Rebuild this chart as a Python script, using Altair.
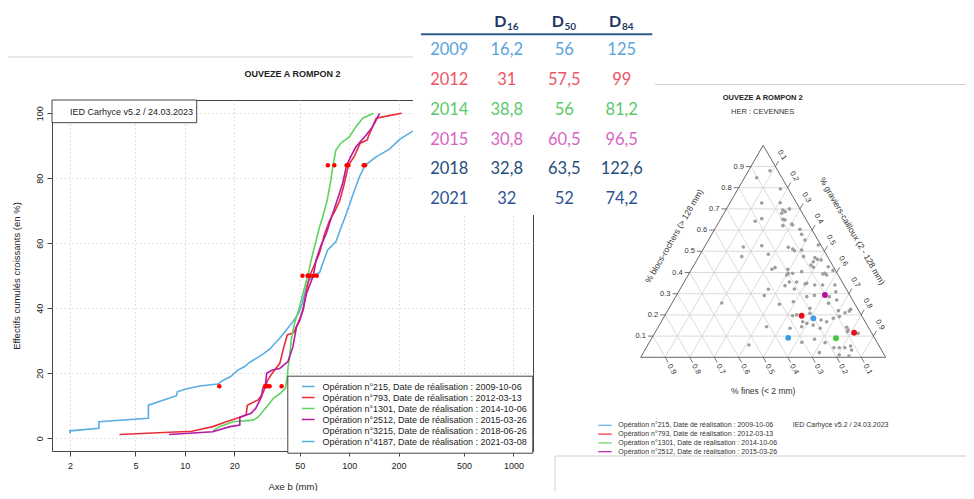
import altair as alt
import pandas as pd

F = "Liberation Sans"
TF = "Lato"

# ---------------- data ----------------
TITLE = "OUVEZE A ROMPON 2"
op_labels = [
    "Opération n°215, Date de réalisation : 2009-10-06",
    "Opération n°793, Date de réalisation : 2012-03-13",
    "Opération n°1301, Date de réalisation : 2014-10-06",
    "Opération n°2512, Date de réalisation : 2015-03-26",
    "Opération n°3215, Date de réalisation : 2018-06-26",
    "Opération n°4187, Date de réalisation : 2021-03-08",
]
op_colors = ["#5AAEE3", "#EB2D3A", "#5ED35E", "#B51AA3", "#FFFFFF", "#5AAEE3"]

c09_x = [2, 2, 3, 3, 6, 6, 8.9, 9, 10, 12.3, 15.9, 17, 19, 21, 23, 25, 28, 30, 33, 35, 37.8, 41, 45.5, 49.3, 51.8,
         54.3, 56, 60, 66, 74, 83, 88, 96, 105.5, 115.6, 125, 146, 176, 203, 234, 257, 320, 450, 650, 1000]
c09_y = [1.5, 2.3, 3.1, 5.1, 6.2, 10.2, 13.1, 14.3, 15.1, 16.1, 16.7, 17.8, 19, 21, 22, 23.5, 25, 26, 27.5, 29, 30.8,
         33, 35.9, 38.5, 41.5, 45.6, 48, 50, 51, 58, 60.5, 64, 69, 75, 80.5, 84, 86.6, 89, 92, 94, 95, 96, 97, 98.5, 100]
c12_x = [4, 11, 14.8, 17.9, 21.6, 23.6, 24, 27.9, 29.8, 31, 32, 34, 37.8, 40, 42, 46, 49.3, 52.5, 55, 57.5, 61, 66, 71,
         76, 82, 87.5, 92, 99, 108, 116.7, 129, 131, 139, 146, 175, 209]
c12_y = [1.2, 2.2, 3.6, 5.1, 6.5, 7.2, 10.2, 11.8, 13.8, 16, 18, 20, 23, 28, 31.8, 32.5, 35.9, 39.5, 45.6, 50, 53, 57,
         63, 67, 70, 73, 77, 84, 87, 90.8, 91.8, 93, 95.9, 98.5, 99.3, 100]
c14_x = [14.8, 16.3, 19.6, 26, 27.9, 31.5, 34.6, 38.1, 40.9, 42, 42.5, 43.4, 44.4, 46.5, 49.3, 51.8, 53, 56, 58.5, 61.6,
         66, 69, 73.5, 77.5, 79.5, 83, 89, 100.5, 110, 121, 140.6]
c14_y = [2.3, 3.6, 5.1, 5.6, 6.5, 9.7, 12.3, 13.8, 15.4, 19, 22, 25, 30.2, 35.4, 39.5, 43.6, 45.6, 50, 54.5, 59, 65, 68,
         73.3, 79.5, 83.6, 88.7, 90.8, 92.8, 95.9, 98.5, 100]
c15_x = [8, 14.8, 18.8, 21.6, 21.6, 25.3, 27, 29.3, 29.8, 30.8, 31.5, 34, 37.8, 42.4, 45.5, 47.8, 50.2, 52.8, 55, 60.5,
         63, 67, 72.6, 78, 83.4, 91.3, 96.5, 103, 110, 127, 139, 146, 153]
c15_y = [1.2, 2, 3.6, 4.1, 6.5, 7.7, 9.2, 12.8, 15.4, 16, 20, 21, 21.5, 23.6, 28.2, 34.3, 36.4, 40.5, 44.6, 50, 55, 59,
         63, 68, 72.3, 78.5, 84, 87, 89.7, 93.3, 95.9, 97.9, 100]

x_ticks = [2, 5, 10, 20, 50, 100, 200, 500, 1000]
y_ticks = [0, 20, 40, 60, 80, 100]

years = ["2009", "2012", "2014", "2015", "2018", "2021"]
d16 = [16.2, 31, 38.8, 30.8, 32.8, 32]
d50 = [56, 57.5, 56, 60.5, 63.5, 52]
d84 = [125, 99, 81.2, 96.5, 122.6, 74.2]
table_colors = ["#5BA3DC", "#EE5567", "#5BC96A", "#D963C4", "#1F4E79", "#2F5496"]

tern_levels = [0.1, 0.2, 0.3, 0.4, 0.5, 0.6, 0.7, 0.8, 0.9]
gray_blocs = [0.880, 0.847, 0.794, 0.728, 0.729, 0.695, 0.687, 0.679, 0.700, 0.642, 0.654, 0.651, 0.648, 0.629, 0.621,
              0.624, 0.604, 0.580, 0.553, 0.530, 0.520, 0.526, 0.519, 0.511, 0.503, 0.506, 0.475, 0.470, 0.462, 0.451,
              0.475, 0.486, 0.423, 0.415, 0.415, 0.396, 0.388, 0.404, 0.435, 0.425, 0.459, 0.427, 0.393, 0.388, 0.41,
              0.338, 0.355, 0.355, 0.346, 0.349, 0.341, 0.341, 0.396, 0.396, 0.341, 0.309, 0.286, 0.291, 0.321, 0.322,
              0.286, 0.292, 0.270, 0.250, 0.262, 0.231, 0.255, 0.220, 0.210, 0.218, 0.226, 0.256, 0.196, 0.200, 0.208,
              0.168, 0.160, 0.152, 0.144, 0.176, 0.168, 0.184, 0.192, 0.142, 0.129, 0.121, 0.137, 0.144, 0.137, 0.113,
              0.085, 0.071, 0.069, 0.045, 0.045, 0.045, 0.053, 0.034, 0.006, 0.011, 0.022, 0.058]
gray_graviers = [0.088, 0.050, 0.173, 0.130, 0.205, 0.232, 0.246, 0.236, 0.257, 0.146, 0.167, 0.255, 0.265, 0.302,
                 0.270, 0.308, 0.348, 0.367, 0.394, 0.460, 0.159, 0.231, 0.343, 0.365, 0.376, 0.404, 0.427, 0.476,
                 0.490, 0.479, 0.175, 0.278, 0.337, 0.328, 0.393, 0.404, 0.402, 0.455, 0.477, 0.492, 0.507, 0.552,
                 0.547, 0.565, 0.58, 0.420, 0.429, 0.459, 0.498, 0.503, 0.540, 0.572, 0.422, 0.554, 0.622, 0.642,
                 0.627, 0.359, 0.361, 0.466, 0.535, 0.563, 0.665, 0.441, 0.492, 0.575, 0.639, 0.697, 0.729, 0.742,
                 0.744, 0.203, 0.522, 0.537, 0.587, 0.577, 0.598, 0.628, 0.585, 0.648, 0.675, 0.694, 0.715, 0.770,
                 0.783, 0.783, 0.541, 0.442, 0.664, 0.831, 0.667, 0.622, 0.718, 0.766, 0.788, 0.811, 0.830, 0.844,
                 0.847, 0.805, 0.718, 0.413]
op_blocs = [0.092, 0.196, 0.090, 0.294, 0.184, 0.116]
op_graviers = [0.556, 0.559, 0.752, 0.605, 0.613, 0.813]
op_pt_colors = ["#3D9BE3", "#E8101E", "#46C83E", "#B010A0", "#3D9BE3", "#E8101E"]

tern_leg_labels = op_labels[:4]
tern_leg_colors = ["#5AAEE3", "#EB2D3A", "#5ED35E", "#B51AA3"]

# ---------------- frames ----------------
rows = []
for lab, xs_, ys_ in zip(op_labels[:4], [c09_x, c12_x, c14_x, c15_x], [c09_y, c12_y, c14_y, c15_y]):
    for i, (a, b) in enumerate(zip(xs_, ys_)):
        rows.append({"op": lab, "size": a, "pct": b, "i": i})
curves_df = pd.DataFrame(rows)
dots_df = pd.DataFrame([{"size": v, "pct": p} for p, arr in [(16, d16), (50, d50), (84, d84)] for v in arr])
one = pd.DataFrame({"k": [0]})

PW, PH = 481, 351
xsc = alt.Scale(type="log", domain=[1.554, 1315], nice=False)
ysc = alt.Scale(domain=[-3.9, 104.1], nice=False, zero=False)
common_ax = dict(grid=True, gridDash=[1, 3], gridColor="#C4C4C4", gridWidth=1, domain=False, tickSize=5,
                 tickColor="#444", labelFont=F, labelFontSize=9, labelColor="#222", titleFont=F,
                 titleFontSize=9.5, titleFontWeight="normal", titleColor="#222", labelFlush=False,
                 labelOverlap=False)
xax = alt.Axis(values=x_ticks, format="d", title="Axe b (mm)", labelPadding=5, titlePadding=11, **common_ax)
yax = alt.Axis(values=y_ticks, title="Effectifs cumulés croissants (en %)", labelAngle=270, labelAlign="center",
               labelBaseline="bottom", labelPadding=3, titlePadding=14, **common_ax)

leg = alt.Legend(orient="none", legendX=235.3, legendY=275.7, title=None, fillColor="white", strokeColor="#444",
                 padding=5.4, symbolType="stroke", symbolSize=160, symbolStrokeWidth=1.5, symbolOffset=8,
                 labelOffset=6.7, labelFont=F, labelFontSize=9, labelColor="#222", clipHeight=10.8, rowPadding=0,
                 labelLimit=400)

curves = alt.Chart(curves_df).mark_line(strokeWidth=1.6).encode(
    x=alt.X("size:Q", scale=xsc, axis=xax),
    y=alt.Y("pct:Q", scale=ysc, axis=yax),
    color=alt.Color("op:N", scale=alt.Scale(domain=op_labels, range=op_colors), legend=leg),
    order=alt.Order("i:Q"),
)
dots = alt.Chart(dots_df).mark_circle(color="#FF0000", size=20, opacity=1).encode(
    x=alt.X("size:Q", scale=xsc, axis=xax),
    y=alt.Y("pct:Q", scale=ysc, axis=yax),
)
left = alt.layer(curves, dots)

ied_box = alt.Chart(one).mark_rect(fill="white", stroke="#444", strokeWidth=1).encode(
    x=alt.value(0), x2=alt.value(144.7), y=alt.value(0), y2=alt.value(22.7))
ied_txt = alt.Chart(one).mark_text(text="IED Carhyce v5.2 / 24.03.2023", font=F, fontSize=9, align="left",
                                   baseline="middle", color="#222").encode(x=alt.value(18), y=alt.value(12))
left_title = alt.Chart(one).mark_text(text=TITLE, font=F, fontSize=9, fontWeight="bold", align="center",
                                      baseline="middle", color="#222").encode(x=alt.value(240.5), y=alt.value(-26))

# faint page frame lines of the composed screenshot
frame_col = "#CFCFCF"
fr1 = alt.Chart(one).mark_rule(color=frame_col, strokeWidth=1).encode(
    x=alt.value(-44), x2=alt.value(363), y=alt.value(-43))
fr2 = alt.Chart(one).mark_rule(color=frame_col, strokeWidth=1).encode(
    x=alt.value(603), x2=alt.value(914), y=alt.value(-15.5))
fr3 = alt.Chart(one).mark_rule(color=frame_col, strokeWidth=1).encode(
    x=alt.value(503), x2=alt.value(914), y=alt.value(356))
fr4 = alt.Chart(one).mark_rule(color=frame_col, strokeWidth=1).encode(
    x=alt.value(503), y=alt.value(356), y2=alt.value(391))

# ---- table ----
def fmt(v):
    return f"{v:g}".replace(".", ",")

cols = ["year", "D16", "D50", "D84"]
cells = []
for yr, c, a, b, d in zip(years, table_colors, d16, d50, d84):
    for col, v in zip(cols, [yr, a, b, d]):
        cells.append({"col": col, "year": yr, "txt": v if col == "year" else fmt(v), "color": c})
cells_df = pd.DataFrame(cells)
head_df = pd.DataFrame({"col": cols[1:], "main": ["D", "D", "D"], "sub": ["16", "50", "84"]})

tx = alt.Scale(type="point", domain=cols, range=[397.3, 569.7], padding=0)
ty = alt.Scale(type="point", domain=years, range=[-50, 99.3], padding=0)

white = alt.Chart(one).mark_rect(fill="white").encode(
    x=alt.value(361), x2=alt.value(601), y=alt.value(-92), y2=alt.value(115))
table_txt = alt.Chart(cells_df).mark_text(font=TF, fontSize=16.5, align="center", baseline="middle").encode(
    x=alt.X("col:N", scale=tx, axis=None), y=alt.Y("year:N", scale=ty, axis=None),
    text="txt:N", color=alt.Color("color:N", scale=None))
head_d = alt.Chart(head_df).mark_text(font=TF, fontSize=16, fontWeight="bold", color="#1F3864", align="center",
                                      baseline="alphabetic", dx=-6.5).encode(
    x=alt.X("col:N", scale=tx, axis=None), y=alt.value(-73.3), text="main:N")
head_s = alt.Chart(head_df).mark_text(font=TF, fontSize=10, fontWeight="bold", color="#1F3864", align="center",
                                      baseline="alphabetic", dx=6).encode(
    x=alt.X("col:N", scale=tx, axis=None), y=alt.value(-70), text="sub:N")
head_rule = alt.Chart(one).mark_rule(color="#2E5C8A", strokeWidth=2).encode(
    x=alt.value(369), x2=alt.value(600.3), y=alt.value(-65.7))
table = alt.layer(white, table_txt, head_d, head_s, head_rule)

# ---- ternary ----
tsx = alt.Scale(domain=[0, 1], range=[588.7, 833.7], nice=False, zero=False)
tsy = alt.Scale(domain=[0, 1], range=[257.3, 45.3], nice=False, zero=False)
UX, UY = 245.0, 212.0

seg = []
for t in tern_levels:
    seg.append({"b1": t, "g1": 0, "b2": t, "g2": 1 - t})
    seg.append({"b1": 0, "g1": t, "b2": 1 - t, "g2": t})
    seg.append({"b1": 0, "g1": 1 - t, "b2": 1 - t, "g2": 0})
grid_df = pd.DataFrame(seg)
outline_df = pd.DataFrame([{"b1": 0, "g1": 0, "b2": 0, "g2": 1}, {"b1": 0, "g1": 1, "b2": 1, "g2": 0},
                           {"b1": 1, "g1": 0, "b2": 0, "g2": 0}])

def seg_chart(df, color, width):
    return alt.Chart(df).transform_calculate(
        x1="datum.g1 + datum.b1 / 2", y1="datum.b1", x2="datum.g2 + datum.b2 / 2", y2="datum.b2"
    ).mark_rule(color=color, strokeWidth=width).encode(
        x=alt.X("x1:Q", scale=tsx, axis=None), y=alt.Y("y1:Q", scale=tsy, axis=None), x2="x2:Q", y2="y2:Q")

ticks = []
lab_left, lab_right, lab_bottom = [], [], []
for t in tern_levels:
    s = f"{t:.1f}"
    ticks.append({"x1": t / 2, "y1": t, "x2": t / 2 - 5 / UX, "y2": t})
    lab_left.append({"x": t / 2 - 7 / UX, "y": t, "s": s})
    rx, ry = (1 + t) / 2, 1 - t
    ticks.append({"x1": rx, "y1": ry, "x2": rx + 3 / UX, "y2": ry + 5.2 / UY})
    lab_right.append({"x": rx + 6.5 / UX, "y": ry + 11.3 / UY, "s": s})
    bx = 1 - t
    ticks.append({"x1": bx, "y1": 0, "x2": bx + 3 / UX, "y2": -5.2 / UY})
    lab_bottom.append({"x": bx + 6.5 / UX, "y": -12 / UY, "s": s})
ticks_df = pd.DataFrame(ticks)

tick_ch = alt.Chart(ticks_df).mark_rule(color="#555", strokeWidth=0.8).encode(
    x=alt.X("x1:Q", scale=tsx, axis=None), y=alt.Y("y1:Q", scale=tsy, axis=None), x2="x2:Q", y2="y2:Q")

def lab_chart(rows_, align, angle):
    return alt.Chart(pd.DataFrame(rows_)).mark_text(font=F, fontSize=7.5, color="#333", align=align,
                                                    baseline="middle", angle=angle).encode(
        x=alt.X("x:Q", scale=tsx, axis=None), y=alt.Y("y:Q", scale=tsy, axis=None), text="s:N")

t_fines = alt.Chart(pd.DataFrame([{"x": 0.5, "y": -0.158, "s": "% fines (< 2 mm)"}])).mark_text(
    font=F, fontSize=8.5, color="#333", align="center", baseline="middle").encode(
    x=alt.X("x:Q", scale=tsx, axis=None), y=alt.Y("y:Q", scale=tsy, axis=None), text="s:N")
t_blocs = alt.Chart(pd.DataFrame([{"x": 0.136, "y": 0.572, "s": "% blocs-rochers (> 128 mm)"}])).mark_text(
    font=F, fontSize=8.5, color="#333", align="center", baseline="middle", angle=300).encode(
    x=alt.X("x:Q", scale=tsx, axis=None), y=alt.Y("y:Q", scale=tsy, axis=None), text="s:N")
t_grav = alt.Chart(pd.DataFrame([{"x": 0.864, "y": 0.596, "s": "% graviers-cailloux (2 - 128 mm)"}])).mark_text(
    font=F, fontSize=8.5, color="#333", align="center", baseline="middle", angle=60).encode(
    x=alt.X("x:Q", scale=tsx, axis=None), y=alt.Y("y:Q", scale=tsy, axis=None), text="s:N")

gray_df = pd.DataFrame({"b": gray_blocs, "g": gray_graviers})
gray_pts = alt.Chart(gray_df).transform_calculate(x="datum.g + datum.b / 2").mark_circle(
    color="#9E9E9E", size=13, opacity=1).encode(
    x=alt.X("x:Q", scale=tsx, axis=None), y=alt.Y("b:Q", scale=tsy, axis=None))
op_df = pd.DataFrame({"b": op_blocs, "g": op_graviers, "c": op_pt_colors})
op_pts = alt.Chart(op_df).transform_calculate(x="datum.g + datum.b / 2").mark_circle(size=34, opacity=1).encode(
    x=alt.X("x:Q", scale=tsx, axis=None), y=alt.Y("b:Q", scale=tsy, axis=None),
    color=alt.Color("c:N", scale=None))

tern = alt.layer(seg_chart(grid_df, "#D2D2D2", 0.8), seg_chart(outline_df, "#666", 1), tick_ch,
                 lab_chart(lab_left, "right", 0), lab_chart(lab_right, "center", 60),
                 lab_chart(lab_bottom, "center", 60), t_fines, t_blocs, t_grav, gray_pts, op_pts)

tern_h1 = alt.Chart(one).mark_text(text=TITLE, font=F, fontSize=7.5, fontWeight="bold", align="center",
                                   baseline="middle", color="#222").encode(x=alt.value(710.7), y=alt.value(-1.7))
tern_h2 = alt.Chart(one).mark_text(text="HER : CEVENNES", font=F, fontSize=7.5, align="center",
                                   baseline="middle", color="#333").encode(x=alt.value(710.7), y=alt.value(12.3))

tl_df = pd.DataFrame({"lab": tern_leg_labels, "c": tern_leg_colors})
tly = alt.Scale(type="point", domain=tern_leg_labels, range=[325.3, 351.7], padding=0)
tl_rule = alt.Chart(tl_df).mark_rule(strokeWidth=1.2).encode(
    x=alt.value(546.3), x2=alt.value(559.7), y=alt.Y("lab:N", scale=tly, axis=None),
    color=alt.Color("c:N", scale=None))
tl_txt = alt.Chart(tl_df).mark_text(font=F, fontSize=7, color="#333", align="left", baseline="middle").encode(
    x=alt.value(566.3), y=alt.Y("lab:N", scale=tly, axis=None), text="lab:N")
tern_leg = alt.layer(tl_rule, tl_txt)
tern_ied = alt.Chart(one).mark_text(text="IED Carhyce v5.2 / 24.03.2023", font=F, fontSize=7, align="left",
                                    baseline="middle", color="#333").encode(x=alt.value(740.7), y=alt.value(325.3))

chart = alt.layer(
    fr1, fr2, fr3, fr4, left, ied_box, ied_txt, left_title, table, tern, tern_h1, tern_h2, tern_leg, tern_ied
).resolve_scale(
    x="independent", y="independent", color="independent"
).properties(
    width=PW, height=PH,
    padding={"left": 44, "top": 92, "right": 433, "bottom": 40},
    autosize=alt.AutoSizeParams(type="none"),
).configure_view(stroke="#444", strokeWidth=1)

chart.save("out.html", embed_options={"renderer": "svg", "actions": False})
